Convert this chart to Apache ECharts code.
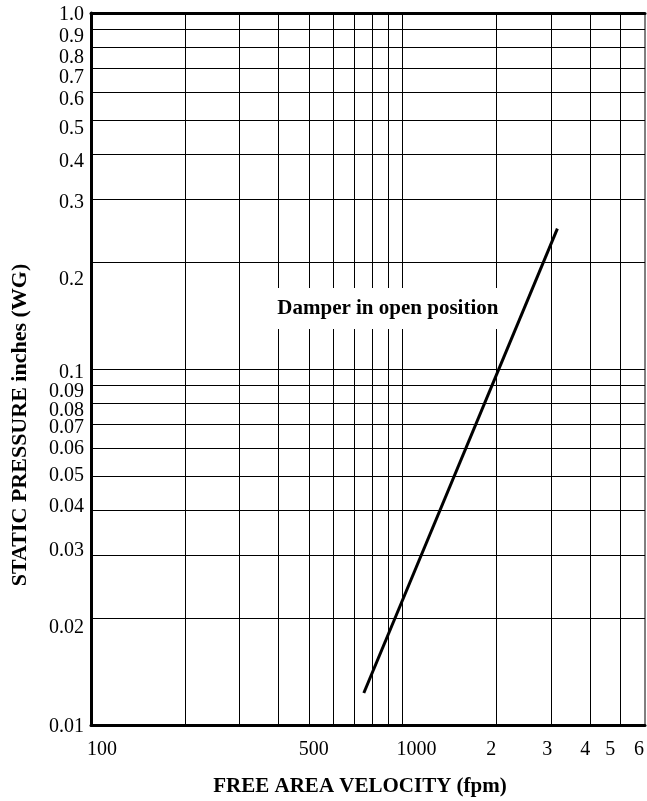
<!DOCTYPE html>
<html>
<head>
<meta charset="utf-8">
<script src="https://cdn.jsdelivr.net/npm/echarts@6/dist/echarts.min.js"></script>
<style>
html,body{margin:0;padding:0;background:#fff;}
#chart{width:647px;height:801px;}
</style>
</head>
<body>
<div id="chart"></div>
<script>
// ---- data ----
const curveX = [751, 3140];          // free area velocity (fpm)
const curveY = [0.0123, 0.248];      // static pressure (in. WG)
const xGridValues = [200, 300, 400, 500, 600, 700, 800, 900, 1000, 2000, 3000, 4000, 5000];
const yGridValues = [0.02, 0.03, 0.04, 0.05, 0.06, 0.07, 0.08, 0.09, 0.1, 0.2, 0.3, 0.4, 0.5, 0.6, 0.7, 0.8, 0.9];
const xLabelValues = [100, 500, 1000, 2000, 3000, 4000, 5000, 6000];
const xLabelTexts = ['100', '500', '1000', '2', '3', '4', '5', '6'];
const yLabelValues = [1, 0.9, 0.8, 0.7, 0.6, 0.5, 0.4, 0.3, 0.2, 0.1, 0.09, 0.08, 0.07, 0.06, 0.05, 0.04, 0.03, 0.02, 0.01];
const yLabelTexts = ['1.0', '0.9', '0.8', '0.7', '0.6', '0.5', '0.4', '0.3', '0.2', '0.1', '0.09', '0.08', '0.07', '0.06', '0.05', '0.04', '0.03', '0.02', '0.01'];
const annotationText = 'Damper in open position';
const annotationPos = [897, 0.148];
const xTitle = 'FREE AREA VELOCITY (fpm)';
const yTitle = 'STATIC PRESSURE inches (WG)';

// ---- label placement styles (pixel nudges, not data) ----
const yLabelShift = [2, 7, 10, 10, 8, 9, 7, 4, 18, 4, 6, 7, 4, 1, 0, -4, -4, 10, 2];
const xLabelShift = [11, 5, 14, -5, -4, -5, -10, -6];

const FONT = "'Liberation Serif','Times New Roman',serif";

function idxOf(arr, v) {
  for (let i = 0; i < arr.length; i++) {
    if (Math.abs(Math.log10(arr[i]) - Math.log10(v)) < 1e-6) return i;
  }
  return -1;
}
const yRich = {}, xRich = {};
yLabelShift.forEach((s, i) => {
  yRich['y' + i] = { fontFamily: FONT, fontSize: 20, color: '#000',
    padding: s >= 0 ? [2 * s, 0, 0, 0] : [0, 0, -2 * s, 0] };
});
xLabelShift.forEach((s, i) => {
  xRich['x' + i] = { fontFamily: FONT, fontSize: 20, color: '#000',
    padding: s >= 0 ? [0, 0, 0, 2 * s] : [0, -2 * s, 0, 0] };
});

const chart = echarts.init(document.getElementById('chart'), null, { renderer: 'canvas' });

const gridLines = [];
xGridValues.forEach(v => gridLines.push({ xAxis: v }));
yGridValues.forEach(v => gridLines.push({ yAxis: v }));

chart.setOption({
  animation: false,
  backgroundColor: '#fff',
  grid: { left: 91, right: 1, top: 13, bottom: 76, show: true, borderColor: '#000', borderWidth: 1, backgroundColor: 'transparent' },
  xAxis: [{
    type: 'log', logBase: 10, min: 100, max: 6000,
    axisLine: { show: true, lineStyle: { color: '#000', width: 3 } },
    axisTick: { show: false },
    splitLine: { show: false },
    minorTick: { show: false },
    axisLabel: {
      show: true, customValues: xLabelValues, margin: 15,
      formatter: function (v) { const i = idxOf(xLabelValues, v); return i < 0 ? '' : '{x' + i + '|' + xLabelTexts[i] + '}'; },
      rich: xRich, fontFamily: FONT, fontSize: 20, color: '#000', showMinLabel: true, showMaxLabel: true, hideOverlap: false
    }
  }, {
    type: 'log', logBase: 10, min: 100, max: 6000, position: 'top',
    axisLine: { show: true, lineStyle: { color: '#000', width: 3 } },
    axisTick: { show: false }, axisLabel: { show: false }, splitLine: { show: false }
  }],
  yAxis: [{
    type: 'log', logBase: 10, min: 0.01, max: 1,
    axisLine: { show: true, lineStyle: { color: '#000', width: 3 } },
    axisTick: { show: false },
    splitLine: { show: false },
    axisLabel: {
      show: true, customValues: yLabelValues, margin: 7,
      formatter: function (v) { const i = idxOf(yLabelValues, v); return i < 0 ? '' : '{y' + i + '|' + yLabelTexts[i] + '}'; },
      rich: yRich, fontFamily: FONT, fontSize: 20, color: '#000', showMinLabel: true, showMaxLabel: true, hideOverlap: false
    }
  }],
  graphic: [{
    type: 'text', x: 360, y: 787,
    style: { text: xTitle, font: "bold 21px 'Liberation Serif','Times New Roman',serif", fill: '#000', align: 'center', verticalAlign: 'middle' },
    z: 100
  }, {
    type: 'text', x: 20, y: 425, rotation: Math.PI / 2,
    style: { text: yTitle, font: "bold 22px 'Liberation Serif','Times New Roman',serif", fill: '#000', align: 'center', verticalAlign: 'middle' },
    z: 100
  }],
  series: [{
    name: 'grid', type: 'line', data: [], silent: true, z: 1,
    markLine: {
      silent: true, symbol: ['none', 'none'], animation: false,
      label: { show: false },
      lineStyle: { color: '#000', width: 1, type: 'solid' },
      emphasis: { disabled: true },
      data: gridLines
    }
  }, {
    name: 'Damper in open position', type: 'line', z: 5,
    data: curveX.map((x, i) => [x, curveY[i]]),
    symbol: 'none', smooth: false,
    lineStyle: { color: '#000', width: 3 },
    markPoint: {
      symbol: 'circle', symbolSize: 0, z: 10, silent: true,
      data: [{ coord: annotationPos, value: annotationText }],
      label: {
        show: true, position: 'inside', formatter: annotationText,
        fontFamily: FONT, fontWeight: 'bold', fontSize: 21, color: '#000',
        backgroundColor: '#fff', padding: [10, 10]
      }
    }
  }]
});
</script>
</body>
</html>
